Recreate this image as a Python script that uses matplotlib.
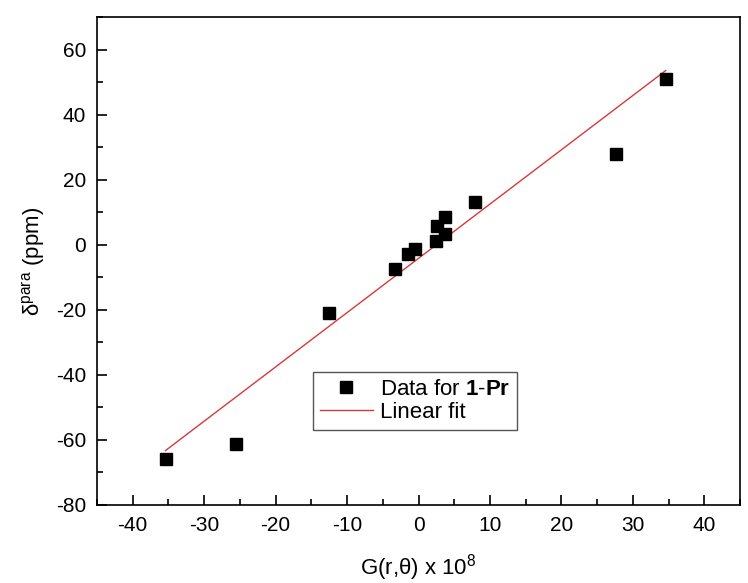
import numpy as np
import matplotlib
matplotlib.use("Agg")
import matplotlib.pyplot as plt
from matplotlib.ticker import MultipleLocator

plt.rcParams['font.family'] = ['Liberation Sans', 'DejaVu Sans']
plt.rcParams['mathtext.fontset'] = 'custom'
plt.rcParams['mathtext.rm'] = 'Liberation Sans'
plt.rcParams['mathtext.it'] = 'Liberation Sans:italic'
plt.rcParams['mathtext.bf'] = 'Liberation Sans:bold'
plt.rcParams['axes.unicode_minus'] = False

# Data
g_values = [-35.4, -25.6, -12.5, -3.3, -1.5, -0.5, 2.5, 2.6, 3.7, 3.7, 7.9, 27.6, 34.6]
delta_para = [-65.8, -61.2, -20.9, -7.4, -2.8, -1.2, 1.2, 5.8, 3.4, 8.6, 13.2, 28.0, 51.0]

x = np.array(g_values)
y = np.array(delta_para)
slope, intercept = np.polyfit(x, y, 1)
xfit = np.array([x.min(), x.max()])
yfit = slope * xfit + intercept

fig = plt.figure(figsize=(7.48, 5.83), dpi=100)
ax = fig.add_axes([97/748, 1 - 505/583, 643/748, 488/583])

ax.plot(x, y, 's', color='black', markersize=8, linestyle='none',
        label='Data for $\\mathbf{1}$-$\\mathbf{Pr}$', zorder=3)
ax.plot(xfit, yfit, '-', color='#d9383a', linewidth=1.0, label='Linear fit', zorder=2)

ax.set_xlim(-45, 45)
ax.set_ylim(-80, 70)
ax.xaxis.set_major_locator(MultipleLocator(10))
ax.xaxis.set_minor_locator(MultipleLocator(5))
ax.yaxis.set_major_locator(MultipleLocator(20))
ax.yaxis.set_minor_locator(MultipleLocator(10))
ax.tick_params(which='both', direction='in', top=False, right=False, labelsize=15, width=1.2)
ax.tick_params(which='major', length=7, pad=8)
ax.tick_params(which='minor', length=4)
for s in ax.spines.values():
    s.set_linewidth(1.2)

ax.set_xlabel(r'G(r,$\mathregular{\theta}$) x 10$^{\mathregular{8}}$', fontsize=16, labelpad=12)
ax.set_ylabel(r'$\mathregular{\delta^{para}}$ (ppm)', fontsize=16, labelpad=6)

leg = ax.legend(loc='lower left', bbox_to_anchor=(0.336, 0.154), fontsize=16,
                frameon=True, fancybox=False, edgecolor='#555555', framealpha=1,
                handlelength=2.4, handletextpad=0.3, borderpad=0.3, labelspacing=0.1,
                borderaxespad=0)
leg.get_frame().set_linewidth(1.0)

fig.savefig('out.png', dpi=100, facecolor='white')
